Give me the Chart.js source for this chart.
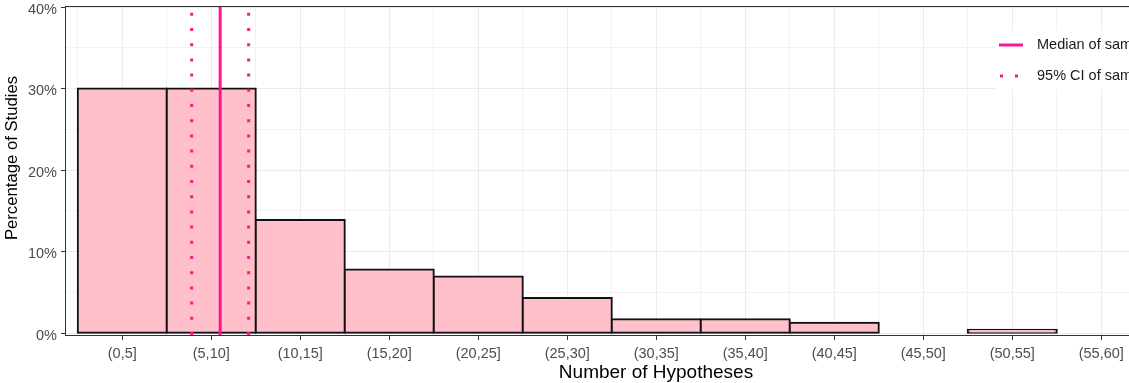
<!DOCTYPE html>
<html><head><meta charset="utf-8">
<script src="https://cdn.jsdelivr.net/npm/chart.js@4.4.0/dist/chart.umd.min.js"></script>
<style>
html,body{margin:0;padding:0;background:#fff;overflow:hidden;width:1129px;height:383px;}
#wrap{position:absolute;left:0;top:0;width:1260px;height:383px;}
</style></head><body>
<div id="wrap"><canvas id="c"></canvas></div>
<script>
// ---- data ----
const categories = ['(0,5]','(5,10]','(10,15]','(15,20]','(20,25]','(25,30]','(30,35]','(35,40]','(40,45]','(45,50]','(50,55]','(55,60]','(60,65]'];
const binWidth = 5;
const percentOfStudies = [30, 30, 13.9, 7.83, 6.96, 4.35, 1.74, 1.74, 1.3, 0, 0.45, 0, 0];
const medianOfSample = 8;
const ciOfSample = [6.4, 9.6];
const yTickValues = [0, 5, 10, 15, 20, 25, 30, 35, 40];
const yLabelledTicks = [0, 10, 20, 30, 40];
const legendLabels = ['Median of sample', '95% CI of sample'];
const xTitle = 'Number of Hypotheses';
const yTitle = 'Percentage of Studies';

// ---- scale limits ----
const xAxisMin = -0.66, xAxisMax = 65.63;
const yAxisMin = -0.2, yAxisMax = 40;

const FONT = '"Liberation Sans", Arial, Helvetica, sans-serif';
const PINK = '#FF1493';

const barData = categories.map((c, i) => ({x: i * binWidth + binWidth / 2, y: percentOfStudies[i]}))
  .filter(d => d.y > 0);
const vline = v => [{x: v, y: yAxisMin}, {x: v, y: yAxisMax}];

const panelPlugin = {
  id: 'panel',
  beforeDraw(chart) {
    const ctx = chart.ctx;
    ctx.save();
    ctx.fillStyle = '#fff';
    ctx.fillRect(0, 0, chart.width, chart.height);
    ctx.restore();
  },
  afterDatasetsDraw(chart) {
    const {ctx, chartArea: a} = chart;
    ctx.save();
    ctx.strokeStyle = '#333333';
    ctx.lineWidth = 1;
    ctx.strokeRect(a.left - 0.5, a.top - 0.5, a.right - a.left + 1, a.bottom - a.top + 1);
    ctx.restore();
  },
  afterDraw(chart) {
    const {ctx, chartArea: a} = chart;
    ctx.save();
    // legend (inside panel, top-right)
    const lx = 995, ly = 31;
    ctx.fillStyle = '#fff';
    ctx.fillRect(lx, ly, 300, 58);
    ctx.strokeStyle = PINK;
    ctx.lineWidth = 3;
    ctx.beginPath(); ctx.moveTo(lx + 4, ly + 14); ctx.lineTo(lx + 28, ly + 14); ctx.stroke();
    ctx.setLineDash([3, 12]);
    ctx.beginPath(); ctx.moveTo(lx + 5, ly + 45); ctx.lineTo(lx + 28, ly + 45); ctx.stroke();
    ctx.setLineDash([]);
    ctx.fillStyle = '#1a1a1a';
    ctx.font = '14.5px ' + FONT;
    ctx.textAlign = 'left';
    ctx.textBaseline = 'middle';
    ctx.fillText(legendLabels[0], lx + 42, ly + 14);
    ctx.fillText(legendLabels[1], lx + 42, ly + 45);
    // axis titles
    ctx.fillStyle = '#000';
    ctx.textAlign = 'center';
    ctx.font = '19px ' + FONT;
    ctx.fillText(xTitle, (a.left + a.right) / 2, 372.5);
    ctx.font = '16.7px ' + FONT;
    ctx.translate(12.5, 158);
    ctx.rotate(-Math.PI / 2);
    ctx.fillText(yTitle, 0, 0);
    ctx.restore();
  }
};

new Chart(document.getElementById('c'), {
  type: 'bar',
  data: {
    datasets: [
      {
        type: 'bar', data: barData, xAxisID: 'x', yAxisID: 'y', order: 3,
        backgroundColor: '#FFC0CB', borderColor: '#111111', borderWidth: 2, inflateAmount: 1,
        borderSkipped: false, barPercentage: 1, categoryPercentage: 1, grouped: false
      },
      {
        type: 'line', data: vline(medianOfSample), xAxisID: 'x', yAxisID: 'y', order: 1,
        borderColor: PINK, borderWidth: 3, pointRadius: 0, fill: false, borderCapStyle: 'butt'
      },
      {
        type: 'line', data: vline(ciOfSample[0]), xAxisID: 'x', yAxisID: 'y', order: 2,
        borderColor: PINK, borderWidth: 3, pointRadius: 0, fill: false, borderDash: [3, 12.2], borderCapStyle: 'butt'
      },
      {
        type: 'line', data: vline(ciOfSample[1]), xAxisID: 'x', yAxisID: 'y', order: 2,
        borderColor: PINK, borderWidth: 3, pointRadius: 0, fill: false, borderDash: [3, 12.2], borderCapStyle: 'butt'
      }
    ]
  },
  options: {
    responsive: true, maintainAspectRatio: false, animation: false, devicePixelRatio: 1,
    layout: {padding: {left: 0, top: 7, right: 14, bottom: 0}},
    plugins: {legend: {display: false}, tooltip: {enabled: false}},
    scales: {
      x: {
        type: 'linear', position: 'bottom', min: xAxisMin, max: xAxisMax, offset: false,
        afterBuildTicks: s => { s.ticks = categories.map((c, i) => ({value: i * binWidth + binWidth / 2})); },
        afterFit: s => { s.height = 48; s.paddingLeft = 0; s.paddingRight = 0; },
        grid: {offset: false, color: '#EBEBEB', lineWidth: 1, tickColor: '#333333', tickLength: 5, tickWidth: 1},
        border: {display: false},
        ticks: {
          autoSkip: false, maxRotation: 0, minRotation: 0, padding: 5,
          color: '#4D4D4D', font: {family: FONT, size: 14.5},
          callback: (v, i) => categories[i]
        }
      },
      x2: {
        type: 'linear', position: 'bottom', min: xAxisMin, max: xAxisMax, offset: false,
        afterBuildTicks: s => { s.ticks = categories.concat(['']).map((c, i) => ({value: i * binWidth})); },
        afterFit: s => { s.height = 0; s.paddingLeft = 0; s.paddingRight = 0; },
        grid: {offset: false, color: '#F2F2F2', lineWidth: 1, drawTicks: false},
        border: {display: false},
        ticks: {display: false}
      },
      y: {
        type: 'linear', position: 'left', min: yAxisMin, max: yAxisMax,
        afterBuildTicks: s => { s.ticks = yTickValues.map(v => ({value: v})); },
        afterFit: s => { s.width = 66; s.paddingTop = 0; s.paddingBottom = 0; },
        grid: {
          color: c => (yLabelledTicks.includes(c.tick.value) ? '#EBEBEB' : '#F2F2F2'),
          lineWidth: 1,
          tickColor: c => (yLabelledTicks.includes(c.tick.value) ? '#333333' : 'rgba(0,0,0,0)'),
          tickLength: 5, tickWidth: 1
        },
        border: {display: false},
        ticks: {
          autoSkip: false, padding: 4, labelOffset: 2.5, color: '#4D4D4D', font: {family: FONT, size: 14.5},
          callback: v => (yLabelledTicks.includes(v) ? v + '%' : '')
        }
      }
    }
  },
  plugins: [panelPlugin]
});
</script>
</body></html>
